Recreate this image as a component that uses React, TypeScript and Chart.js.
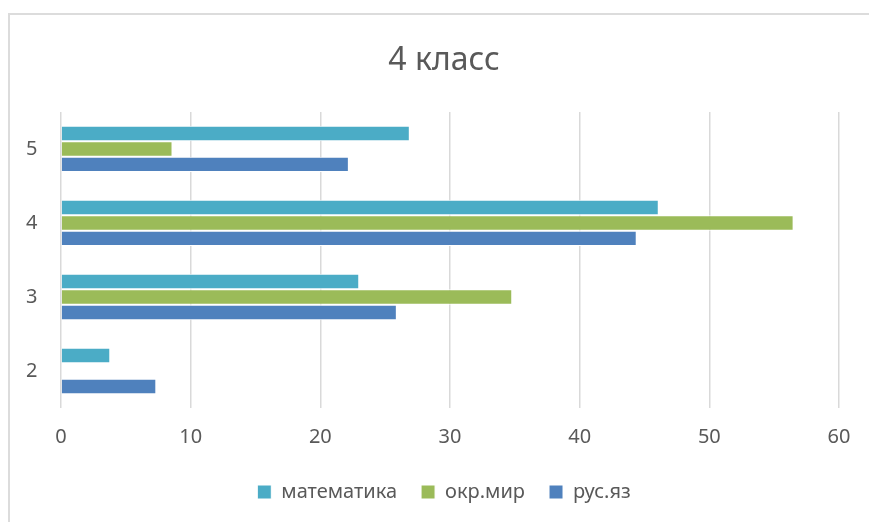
import React, { useEffect, useRef } from "react";
import { Chart, registerables } from "chart.js";

Chart.register(...registerables);

const categories = ["5", "4", "3", "2"];
const mathValues = [26.9, 46.1, 23.0, 3.8];
const worldValues = [8.6, 56.5, 34.8, 0];
const russianValues = [22.2, 44.4, 25.9, 7.35];
const seriesNames = ["математика", "окр.мир", "рус.яз"];
const xTicks = [0, 10, 20, 30, 40, 50, 60];

const FONT = "'Noto Sans', 'Open Sans', sans-serif";
const TEXT = "#595959";

export default function App() {
  const ref = useRef<HTMLCanvasElement | null>(null);

  useEffect(() => {
    if (!ref.current) return;
    const chart = new Chart(ref.current, {
      type: "bar",
      data: {
        labels: categories,
        datasets: [
          {
            label: seriesNames[0],
            data: mathValues,
            backgroundColor: "#4BACC6",
            borderColor: "#ffffff",
            borderWidth: 1,
          },
          {
            label: seriesNames[1],
            data: worldValues,
            backgroundColor: "#9BBB59",
            borderColor: "#ffffff",
            borderWidth: 1,
          },
          {
            label: seriesNames[2],
            data: russianValues,
            backgroundColor: "#4F81BD",
            borderColor: "#ffffff",
            borderWidth: 1,
          },
        ],
      },
      options: {
        indexAxis: "y",
        responsive: false,
        animation: false,
        devicePixelRatio: 1,
        layout: { padding: { left: 30, right: 30, top: 0, bottom: 10 } },
        datasets: {
          bar: { categoryPercentage: 0.626, barPercentage: 1 },
        },
        scales: {
          x: {
            min: xTicks[0],
            max: xTicks[xTicks.length - 1],
            afterBuildTicks: (s: any) => {
              s.ticks = xTicks.map((v) => ({ value: v }));
            },
            afterFit: (s: any) => {
              s.height = 50;
            },
            grid: {
              color: "#d9d9d9",
              lineWidth: 1.5,
              drawTicks: false,
            },
            border: { display: false },
            ticks: {
              padding: 17.5,
              color: TEXT,
              font: { family: FONT, size: 20 },
            },
          },
          y: {
            afterFit: (s: any) => {
              s.width = 12;
            },
            grid: { display: false, drawTicks: false },
            border: { display: false },
            ticks: {
              mirror: true,
              padding: -35,
              color: TEXT,
              font: { family: FONT, size: 20 },
            },
          },
        },
        plugins: {
          title: {
            display: true,
            text: "4 класс",
            color: TEXT,
            font: { family: FONT, size: 32, weight: "normal" },
            padding: { top: 41.5, bottom: 32 },
          },
          legend: {
            position: "bottom",
            labels: {
              color: TEXT,
              boxWidth: 14,
              boxHeight: 14,
              padding: 24,
              font: { family: FONT, size: 20 },
            },
          },
          tooltip: { enabled: false },
        },
      },
    });
    return () => chart.destroy();
  }, []);

  return (
    <div
      style={{
        position: "fixed",
        left: 0,
        top: 0,
        width: 869,
        height: 522,
        overflow: "hidden",
        background: "#ffffff",
      }}
    >
      <div
        style={{
          position: "absolute",
          left: 8,
          top: 13,
          width: 900,
          height: 600,
          border: "2px solid #dcdcdc",
        }}
      />
      <canvas
        ref={ref}
        width={850}
        height={522}
        style={{ position: "absolute", left: 19, top: 0, width: 850, height: 522 }}
      />
    </div>
  );
}
